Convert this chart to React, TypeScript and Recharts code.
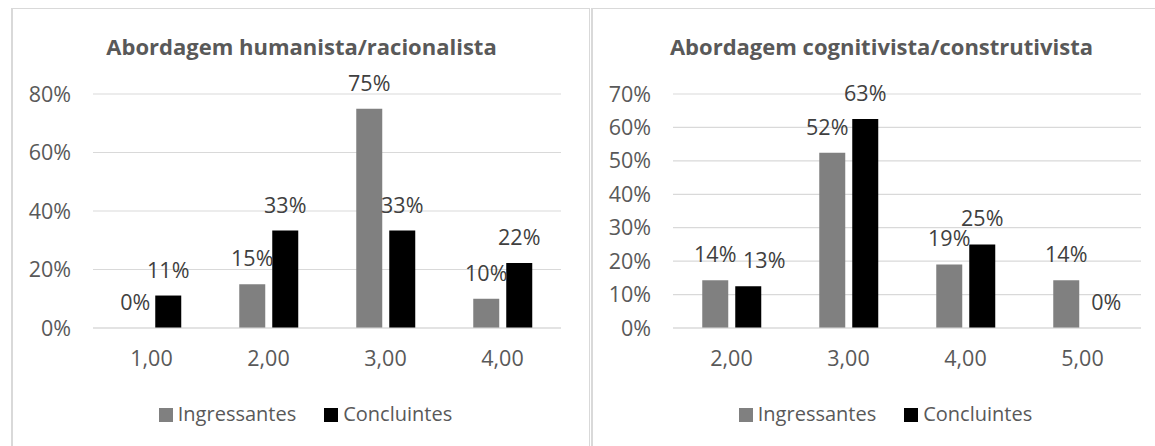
import React from 'react';
import { BarChart, Bar, XAxis, YAxis, CartesianGrid, Legend } from 'recharts';

// left panel: humanista/racionalista
const humanCategories = ['1,00', '2,00', '3,00', '4,00'];
const humanIngressantes = [0, 0.15, 0.75, 0.1];
const humanConcluintes = [0.111, 0.333, 0.333, 0.222];
const humanTicks = [0, 0.2, 0.4, 0.6, 0.8];

// right panel: cognitivista/construtivista
const cogCategories = ['2,00', '3,00', '4,00', '5,00'];
const cogIngressantes = [0.143, 0.524, 0.19, 0.143];
const cogConcluintes = [0.125, 0.625, 0.25, 0];
const cogTicks = [0, 0.1, 0.2, 0.3, 0.4, 0.5, 0.6, 0.7];

const seriesOrder = ['Ingressantes', 'Concluintes'];

const FONT = "'Open Sans', sans-serif";
const AXIS_GREY = '#595959';
const LABEL_GREY = '#404040';
const GRID = '#d9d9d9';
const TEXT_SIZE = 21.5;

const pct = (v: number) => `${Math.round(v * 100)}%`;

const buildRows = (cats: string[], ing: number[], con: number[]) =>
  cats.map((c, i) => ({ cat: c, Ingressantes: ing[i], Concluintes: con[i] }));

// recharts drops labels of zero-height bars, so keep the bar a hair above zero
const keepVisible = (key: string) => (row: any) => row[key] || 1e-6;

// value label drawn above each bar; nudge moves a label sideways like Excel does
const makeLabel = (nudge: number[]) => (props: any) => {
  const { x, y, width, value, index } = props;
  if (x == null || y == null) return null;
  return (
    <text
      key={`lbl-${index}`}
      x={x + width / 2 + (nudge[index] || 0)}
      y={y - 18}
      textAnchor="middle"
      fill={LABEL_GREY}
      fontSize={TEXT_SIZE}
      fontFamily={FONT}
    >
      {pct(Number(value))}
    </text>
  );
};

const LegendContent = (props: any) => {
  const items = [...(props.payload || [])].sort(
    (a: any, b: any) => seriesOrder.indexOf(a.value) - seriesOrder.indexOf(b.value)
  );
  return (
    <div
      style={{
        height: 58,
        boxSizing: 'border-box',
        paddingLeft: 10,
        display: 'flex',
        justifyContent: 'center',
        alignItems: 'flex-start',
        fontFamily: FONT,
        fontSize: 20,
        lineHeight: '28px',
        color: AXIS_GREY,
      }}
    >
      {items.map((it: any, i: number) => (
        <div
          key={i}
          style={{
            display: 'flex',
            alignItems: 'center',
            height: 28,
            marginTop: 12,
            marginRight: i < items.length - 1 ? 28 : 0,
          }}
        >
          <span style={{ width: 14, height: 14, background: it.color, marginRight: 5, marginTop: 2 }} />
          <span>{it.value}</span>
        </div>
      ))}
    </div>
  );
};

interface PanelProps {
  left: number;
  title: string;
  categories: string[];
  ingressantes: number[];
  concluintes: number[];
  ticks: number[];
  ingNudge?: number[];
  conNudge?: number[];
}

const Panel: React.FC<PanelProps> = ({
  left, title, categories, ingressantes, concluintes, ticks, ingNudge = [], conNudge = [],
}) => {
  const rows = buildRows(categories, ingressantes, concluintes);
  return (
    <div
      style={{
        position: 'absolute',
        left,
        top: 8,
        width: 579,
        height: 460,
        boxSizing: 'border-box',
        border: `1px solid ${GRID}`,
        borderLeftWidth: 2,
        background: '#fff',
      }}
    >
      <div
        style={{
          position: 'absolute',
          left: 0,
          top: 22,
          width: 577,
          textAlign: 'center',
          fontFamily: FONT,
          fontWeight: 700,
          fontSize: 22,
          lineHeight: '30px',
          color: AXIS_GREY,
        }}
      >
        {title}
      </div>
      <div style={{ position: 'absolute', left: -1, top: 0 }}>
        <BarChart
          width={577}
          height={437}
          data={rows}
          margin={{ top: 85, right: 28, left: 0, bottom: 0 }}
          barCategoryGap="25%"
          barGap={7}
          style={{ fontFamily: FONT }}
        >
          <CartesianGrid vertical={false} stroke={GRID} strokeWidth={1.2} />
          <XAxis
            dataKey="cat"
            height={60}
            axisLine={{ stroke: GRID, strokeWidth: 1.2 }}
            tickLine={false}
            tickMargin={17}
            tick={{ fill: AXIS_GREY, fontSize: TEXT_SIZE, fontFamily: FONT }}
          />
          <YAxis
            width={81}
            domain={[0, ticks[ticks.length - 1]]}
            ticks={ticks}
            axisLine={false}
            tickLine={false}
            tickMargin={16}
            tickFormatter={pct}
            tick={{ fill: AXIS_GREY, fontSize: TEXT_SIZE, fontFamily: FONT }}
          />
          <Legend
            verticalAlign="bottom"
            content={LegendContent}
            wrapperStyle={{ left: 0, width: 577 }}
          />
          <Bar
            dataKey={keepVisible('Ingressantes')}
            name="Ingressantes"
            fill="#808080"
            isAnimationActive={false}
            label={makeLabel(ingNudge)}
          />
          <Bar
            dataKey={keepVisible('Concluintes')}
            name="Concluintes"
            fill="#000000"
            isAnimationActive={false}
            label={makeLabel(conNudge)}
          />
        </BarChart>
      </div>
    </div>
  );
};

export default function App() {
  return (
    <div
      style={{
        position: 'fixed',
        left: 0,
        top: 0,
        width: 1155,
        height: 446,
        overflow: 'hidden',
        background: '#fff',
      }}
    >
      <Panel
        left={11}
        title="Abordagem humanista/racionalista"
        categories={humanCategories}
        ingressantes={humanIngressantes}
        concluintes={humanConcluintes}
        ticks={humanTicks}
      />
      <Panel
        left={591}
        title="Abordagem cognitivista/construtivista"
        categories={cogCategories}
        ingressantes={cogIngressantes}
        concluintes={cogConcluintes}
        ticks={cogTicks}
        ingNudge={[0, -5, 0, 0]}
        conNudge={[16, 0, 0, 7]}
      />
    </div>
  );
}
